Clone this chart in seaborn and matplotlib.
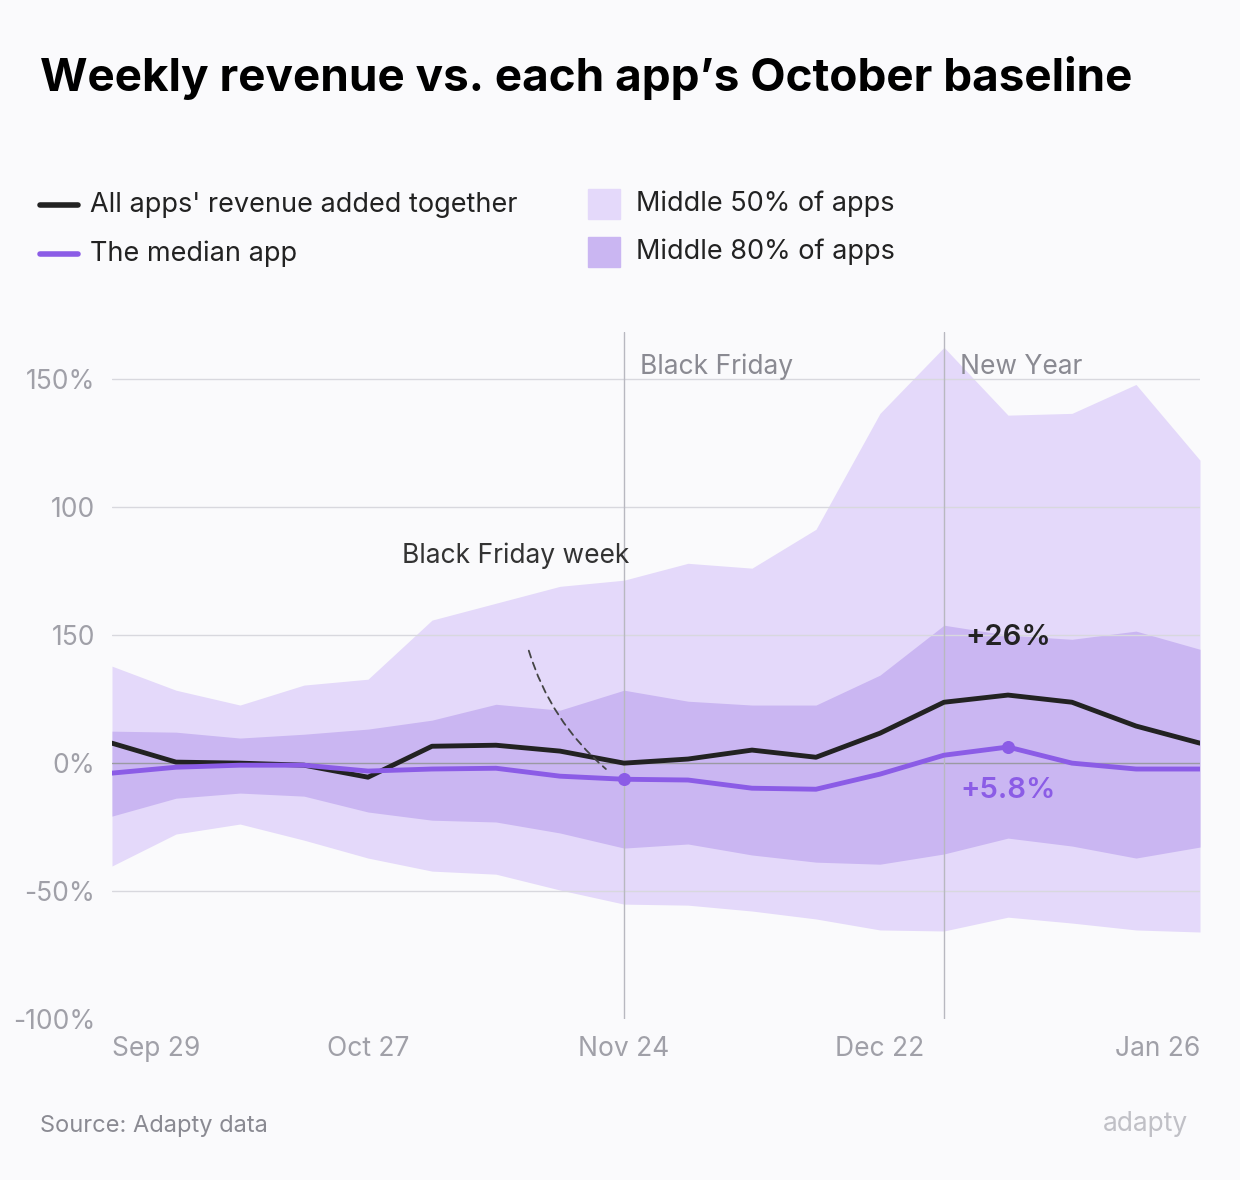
import matplotlib
matplotlib.use("Agg")
import matplotlib.pyplot as plt
import seaborn as sns
import pandas as pd

weeks = list(range(18))
total = [7.8, 0.4, 0, -0.8, -5.5, 6.6, 7.0, 4.7, 0, 1.6, 5.1, 2.3, 11.7, 23.8, 26.6, 23.8, 14.5, 7.8]
median = [-3.9, -1.6, -0.8, -0.8, -3.1, -2.3, -2.0, -5.1, -6.3, -6.6, -9.8, -10.2, -4.3, 3.1, 6.3, 0, -2.3, -2.3]
outer_hi = [37.9, 28.5, 22.7, 30.5, 32.8, 55.9, 62.5, 69.1, 71.5, 78.1, 76.2, 91.4, 136.7, 162.5, 136, 136.7, 148, 118.4]
outer_lo = [-40.2, -27.7, -23.8, -30.1, -37.1, -42.2, -43.4, -49.6, -55.1, -55.5, -57.8, -60.9, -65.2, -65.6, -60.2, -62.5, -65.2, -66]
inner_hi = [12.5, 12.1, 9.8, 11.3, 13.3, 16.8, 23.0, 20.7, 28.5, 24.2, 22.7, 22.7, 34.4, 53.9, 50, 48.4, 51.6, 44.5]
inner_lo = [-20.7, -13.7, -11.7, -12.9, -19.1, -22.3, -23, -27.3, -33.2, -31.6, -35.9, -38.7, -39.5, -35.5, -29.3, -32.4, -37.1, -32.8]
xtick_pos = [0, 4, 8, 12, 17]
xtick_labels = ["Sep 29", "Oct 27", "Nov 24", "Dec 22", "Jan 26"]
ytick_pos = [150, 100, 50, 0, -50, -100]
ytick_labels = ["150%", "100", "150", "0%", "-50%", "-100%"]

df = pd.DataFrame({"week": weeks, "total": total, "median": median})

BG = "#FAFAFC"
LIGHT = "#E4D9FA"
DARK = "#CAB6F2"
BLACK = "#222222"
PURPLE = "#8B5CE6"
GRAY = "#A0A0A8"

sns.set_style("white")
plt.rcParams["font.family"] = ["Inter", "DejaVu Sans"]

fig = plt.figure(figsize=(12.4, 11.8), dpi=100, facecolor=BG)
ax = fig.add_axes([112/1240, 1-1019/1180, (1200-112)/1240, (1019-332)/1180])
ax.set_facecolor(BG)

ax.fill_between(weeks, outer_lo, outer_hi, color=LIGHT, lw=0, zorder=1)
ax.fill_between(weeks, inner_lo, inner_hi, color=DARK, lw=0, zorder=2)
for y in [150, 100, 50, -50]:
    ax.axhline(y, color="#D8D8DE", lw=1, zorder=3)
ax.axhline(0, color="#9A9AA2", lw=1, zorder=3)
for xv in [8, 13]:
    ax.axvline(xv, color="#B8B8C0", lw=1, zorder=3)

sns.lineplot(data=df, x="week", y="total", color=BLACK, lw=3.5, ax=ax, zorder=5)
sns.lineplot(data=df, x="week", y="median", color=PURPLE, lw=3.5, ax=ax, zorder=6)
ax.scatter([8, 14], [median[8], median[14]], color=PURPLE, s=70, zorder=7)

ax.set_xlim(0, 17)
ax.set_ylim(-100, 168.5)
ax.set_xticks(xtick_pos)
ax.set_xticklabels(xtick_labels, fontsize=19, color=GRAY)
ax.set_yticks(ytick_pos)
ax.set_yticklabels(ytick_labels, fontsize=19, color=GRAY)
labs = ax.get_xticklabels()
labs[0].set_ha("left")
labs[-1].set_ha("right")
ax.tick_params(length=0, pad=12)
ax.tick_params(axis="y", pad=12)
ax.set_xlabel("")
ax.set_ylabel("")
for s in ax.spines.values():
    s.set_visible(False)

ax.text(8.25, 155, "Black Friday", fontsize=19, color="#8A8A92", va="center")
ax.text(13.25, 155, "New Year", fontsize=19, color="#8A8A92", va="center")
ax.text(6.3, 81, "Black Friday week", fontsize=19, color="#333333", ha="center", va="center")
ax.annotate("", xy=(7.75, -3), xytext=(6.5, 45),
            arrowprops=dict(arrowstyle="-", ls=(0, (4, 3)), color="#444444", lw=1.3,
                            connectionstyle="arc3,rad=0.15"), zorder=8)
ax.text(14, 49, "+26%", fontsize=21, color=BLACK, ha="center", va="center", fontweight="semibold")
ax.text(14, -10.5, "+5.8%", fontsize=21, color=PURPLE, ha="center", va="center", fontweight="semibold")

fig.text(40/1240, 1-78/1180, "Weekly revenue vs. each app\u2019s October baseline",
         fontsize=33, fontweight="bold", color="black", va="center")

# legend
def leg_line(x, y, c, label):
    fig.add_artist(plt.Line2D([x/1240, (x+38)/1240], [1-y/1180]*2, color=c, lw=4))
    fig.text((x+50)/1240, 1-y/1180, label, fontsize=19.5, color="#222222", va="center")

def leg_patch(x, y, c, label):
    fig.add_artist(plt.Rectangle((x/1240, 1-(y+15)/1180), 32/1240, 30/1180, color=c,
                                 transform=fig.transFigure))
    fig.text((x+48)/1240, 1-y/1180, label, fontsize=19.5, color="#222222", va="center")

leg_line(40, 205, BLACK, "All apps' revenue added together")
leg_line(40, 254, PURPLE, "The median app")
leg_patch(588, 204, LIGHT, "Middle 50% of apps")
leg_patch(588, 252, DARK, "Middle 80% of apps")

fig.text(40/1240, 1-1126/1180, "Source: Adapty data", fontsize=17, color="#8A8A92", va="center")
fig.text(1188/1240, 1-1124/1180, "adapty", fontsize=19, color="#C0C0C6", va="center", ha="right")

fig.savefig("out.png", dpi=100, facecolor=BG)
